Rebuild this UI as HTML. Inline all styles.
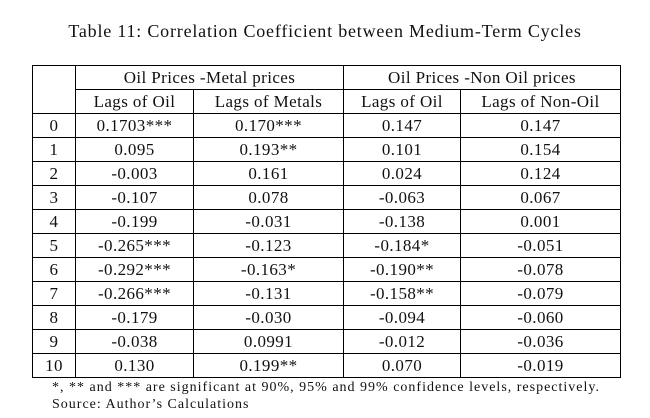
<!DOCTYPE html>
<html><head><style>
body{margin:0;width:650px;height:418px;background:#fff;font-family:"Liberation Serif",serif;color:#111;position:relative;overflow:hidden}
.t{position:absolute;top:21px;left:0;width:650px;text-align:center;font-size:18px;letter-spacing:0.8px}
table{position:absolute;left:32px;top:65px;border-collapse:collapse;font-size:17px;letter-spacing:0.4px}
td{border:1px solid #000;text-align:center;padding:0;height:23px;line-height:22px}
.f{position:absolute;left:52px;font-size:14px;letter-spacing:1px}
</style></head><body>
<div class="t">Table 11: Correlation Coefficient between Medium-Term Cycles</div>
<table>
<colgroup><col style="width:43px"><col style="width:118px"><col style="width:150px"><col style="width:117px"><col style="width:160px"></colgroup>
<tr><td rowspan="2"></td><td colspan="2">Oil Prices -Metal prices</td><td colspan="2">Oil Prices -Non Oil prices</td></tr>
<tr><td>Lags of Oil</td><td>Lags of Metals</td><td>Lags of Oil</td><td>Lags of Non-Oil</td></tr>
<tr><td>0</td><td>0.1703***</td><td>0.170***</td><td>0.147</td><td>0.147</td></tr>
<tr><td>1</td><td>0.095</td><td>0.193**</td><td>0.101</td><td>0.154</td></tr>
<tr><td>2</td><td>-0.003</td><td>0.161</td><td>0.024</td><td>0.124</td></tr>
<tr><td>3</td><td>-0.107</td><td>0.078</td><td>-0.063</td><td>0.067</td></tr>
<tr><td>4</td><td>-0.199</td><td>-0.031</td><td>-0.138</td><td>0.001</td></tr>
<tr><td>5</td><td>-0.265***</td><td>-0.123</td><td>-0.184*</td><td>-0.051</td></tr>
<tr><td>6</td><td>-0.292***</td><td>-0.163*</td><td>-0.190**</td><td>-0.078</td></tr>
<tr><td>7</td><td>-0.266***</td><td>-0.131</td><td>-0.158**</td><td>-0.079</td></tr>
<tr><td>8</td><td>-0.179</td><td>-0.030</td><td>-0.094</td><td>-0.060</td></tr>
<tr><td>9</td><td>-0.038</td><td>0.0991</td><td>-0.012</td><td>-0.036</td></tr>
<tr><td>10</td><td>0.130</td><td>0.199**</td><td>0.070</td><td>-0.019</td></tr>
</table>
<div class="f" style="top:380px">*, ** and *** are significant at 90%, 95% and 99% confidence levels, respectively.</div>
<div class="f" style="top:397px">Source: Author’s Calculations</div>
</body></html>
